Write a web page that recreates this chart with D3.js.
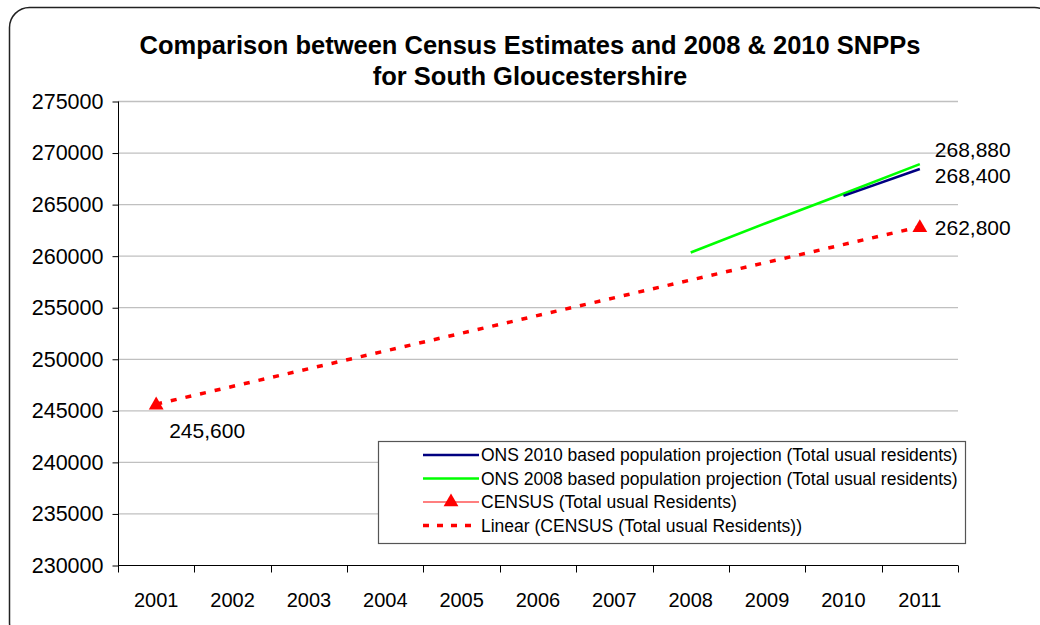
<!DOCTYPE html>
<html lang="en">
<head>
  <meta charset="UTF-8">
  <title>Census vs SNPPs</title>
  <style>
    body { margin: 0; background: #fff; }
    #main { width: 1040px; height: 625px; }
    text { font-family: "Liberation Sans", Arial, sans-serif; }
  </style>
</head>
<body>
  <div id="main"></div>
  <script src="https://d3js.org/d3.v7.min.js"></script>
  <script>
    // data
    const years = ['2001', '2002', '2003', '2004', '2005', '2006', '2007', '2008', '2009', '2010', '2011']
    const census = [[2001, 245600], [2011, 262800]]
    const ons2008 = [[2008, 260300], [2009, 263200], [2010, 266000], [2011, 268880]]
    const ons2010 = [[2010, 265800], [2011, 268400]]
    const yTicks = [230000, 235000, 240000, 245000, 250000, 255000, 260000, 265000, 270000, 275000]
    const legendLabels = [
      'ONS 2010 based population projection (Total usual residents)',
      'ONS 2008 based population projection (Total usual residents)',
      'CENSUS (Total usual Residents)',
      'Linear (CENSUS (Total usual Residents))'
    ]

    const [width, height] = [1040, 625]
    const svg = d3.select('#main').append('svg')
      .attr('width', width)
      .attr('height', height)

    // outer rounded frame
    svg.append('rect')
      .attr('x', 9.5).attr('y', 7.5)
      .attr('width', 1045).attr('height', 635)
      .attr('rx', 20)
      .attr('fill', '#fff')
      .attr('stroke', '#222')
      .attr('stroke-width', 1.5)

    // title
    const title = svg.append('text')
      .attr('x', 530).attr('text-anchor', 'middle')
      .style('font-weight', 'bold').style('font-size', '25.5px')
    title.append('tspan').attr('x', 530).attr('y', 54).text('Comparison between Census Estimates and 2008 & 2010 SNPPs')
    title.append('tspan').attr('x', 530).attr('y', 85).text('for South Gloucestershire')

    const plot = { left: 118, right: 958, top: 101, bottom: 565 }

    const x = d3.scaleBand().domain(years).range([plot.left, plot.right])
    const y = d3.scaleLinear().domain([230000, 275000]).range([plot.bottom, plot.top])
    const xc = yr => x(String(yr)) + x.bandwidth() / 2

    // gridlines
    svg.append('g')
      .selectAll('line')
      .data(yTicks.filter(d => d > 230000))
      .join('line')
      .attr('x1', plot.left).attr('x2', plot.right)
      .attr('y1', d => y(d) + 0.5).attr('y2', d => y(d) + 0.5)
      .attr('stroke', '#c0c0c0').attr('stroke-width', 1.3)

    // y axis
    const yAxis = svg.append('g')
      .attr('transform', `translate(${plot.left + 0.5},0.5)`)
      .call(d3.axisLeft(y).tickValues(yTicks).tickFormat(d3.format('d')).tickSize(6).tickPadding(9))
    yAxis.selectAll('text').style('font-size', '21.5px').attr('fill', '#000')
    yAxis.selectAll('line, path').attr('stroke', '#000')
    yAxis.select('.domain').attr('d', `M0,${plot.top}V${plot.bottom}`)

    // x axis with ticks on band boundaries
    const xAxis = svg.append('g').attr('transform', `translate(0,${plot.bottom + 0.5})`)
    xAxis.append('line')
      .attr('x1', plot.left).attr('x2', plot.right)
      .attr('stroke', '#000')
    const bounds = years.map(d => x(d)).concat([plot.right])
    xAxis.selectAll('.tk')
      .data(bounds)
      .join('line')
      .attr('class', 'tk')
      .attr('x1', d => Math.round(d) + 0.5).attr('x2', d => Math.round(d) + 0.5)
      .attr('y1', 0).attr('y2', 7)
      .attr('stroke', '#000')
    xAxis.selectAll('.lb')
      .data(years)
      .join('text')
      .attr('class', 'lb')
      .attr('x', d => xc(d)).attr('y', 41)
      .attr('text-anchor', 'middle')
      .style('font-size', '20px')
      .text(d => d)

    const line = d3.line().x(d => xc(d[0])).y(d => y(d[1]))

    // linear trend of census (2 points, so passes through both)
    svg.append('path')
      .datum(census)
      .attr('d', line)
      .attr('fill', 'none')
      .attr('stroke', '#ff0000')
      .attr('stroke-width', 3.5)
      .attr('stroke-dasharray', '6,9')

    svg.append('path')
      .datum(ons2008)
      .attr('d', line)
      .attr('fill', 'none')
      .attr('stroke', '#00ff00')
      .attr('stroke-width', 2.6)

    svg.append('path')
      .datum(ons2010)
      .attr('d', line)
      .attr('fill', 'none')
      .attr('stroke', '#000080')
      .attr('stroke-width', 2.6)

    const tri = d3.symbol().type(d3.symbolTriangle).size(95)
    svg.append('g')
      .selectAll('path')
      .data(census)
      .join('path')
      .attr('d', tri)
      .attr('transform', d => `translate(${xc(d[0])},${y(d[1]) + 1})`)
      .attr('fill', '#ff0000')

    // data labels
    const fmt = d3.format(',')
    const labels = [
      { p: ons2008[ons2008.length - 1], dx: 15, dy: -7 },
      { p: ons2010[ons2010.length - 1], dx: 15, dy: 14 },
      { p: census[1], dx: 15, dy: 8 },
      { p: census[0], dx: 13, dy: 34 }
    ]
    svg.append('g')
      .selectAll('text')
      .data(labels)
      .join('text')
      .attr('x', d => xc(d.p[0]) + d.dx)
      .attr('y', d => y(d.p[1]) + d.dy)
      .style('font-size', '21px')
      .text(d => fmt(d.p[1]))

    // legend
    const lg = svg.append('g').attr('transform', 'translate(378,441)')
    lg.append('rect')
      .attr('x', 0.5).attr('y', 0.5)
      .attr('width', 587).attr('height', 102)
      .attr('fill', '#fff')
      .attr('stroke', '#555').attr('stroke-width', 1.2)
    const rows = lg.selectAll('.row')
      .data(legendLabels)
      .join('g')
      .attr('class', 'row')
      .attr('transform', (d, i) => `translate(0,${14 + i * 23.5})`)
    const styles = [
      { c: '#000080', w: 2.5, dash: null },
      { c: '#00ff00', w: 2.5, dash: null },
      { c: '#ff0000', w: 1.2, dash: null },
      { c: '#ff0000', w: 3.5, dash: '6,8' }
    ]
    rows.append('line')
      .attr('x1', 45).attr('x2', 101)
      .attr('stroke', (d, i) => styles[i].c)
      .attr('stroke-width', (d, i) => styles[i].w)
      .attr('stroke-dasharray', (d, i) => styles[i].dash)
    rows.filter((d, i) => i === 2)
      .append('path')
      .attr('d', tri)
      .attr('transform', 'translate(73,0)')
      .attr('fill', '#ff0000')
    rows.append('text')
      .attr('x', 103).attr('y', 6)
      .style('font-size', '17.5px')
      .text(d => d)
  </script>
</body>
</html>
